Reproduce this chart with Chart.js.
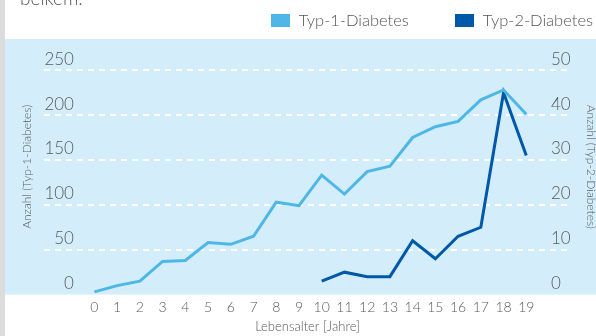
<!DOCTYPE html>
<html>
<head>
<meta charset="utf-8">
<title>Diabetes nach Lebensalter</title>
<script src="https://cdn.jsdelivr.net/npm/chart.js@4.4.0/dist/chart.umd.min.js"></script>
<style>
  html, body { margin: 0; padding: 0; background: #fff; }
  body { width: 596px; height: 336px; overflow: hidden; position: relative; font-family: Lato, "Liberation Sans", sans-serif; font-weight: 300; color: #555; }
  #strip { position: absolute; left: 0; top: 0; width: 5px; height: 336px; background: #dcdcdc; }
  #wrap { position: absolute; left: 5px; top: 0; width: 591px; height: 336px; }
  #cut { position: absolute; left: 20px; top: -12px; font-size: 19px; line-height: 19px; z-index: 2; }
  #legend { position: absolute; right: 3px; top: 9px; display: flex; gap: 46px; z-index: 2; }
  #legend .item { display: flex; align-items: center; font-size: 16.5px; line-height: 22px; color: #555; }
  #legend .box { width: 19px; height: 13px; margin-right: 9px; }
</style>
</head>
<body>
<div id="strip"></div>
<div id="cut">beikem.</div>
<div id="legend"></div>
<div id="wrap"><canvas id="chart"></canvas></div>

<script>
// Werte
var ages = [0, 1, 2, 3, 4, 5, 6, 7, 8, 9, 10, 11, 12, 13, 14, 15, 16, 17, 18, 19];
var typ1 = [3, 10, 15, 37, 38, 58, 56, 65, 103, 99, 133, 112, 137, 143, 175, 187, 193, 217, 228, 201];
var typ2 = [null, null, null, null, null, null, null, null, null, null, 3, 5, 4, 4, 12, 8, 13, 15, 45, 31];
var leftTicks = [0, 50, 100, 150, 200, 250];
var rightTicks = [0, 10, 20, 30, 40, 50];

var hell = "#4fb6e8";
var dunkel = "#0058a8";
var grau = "#5a5a5a";

Chart.defaults.font.family = "Lato, 'Liberation Sans', sans-serif";
Chart.defaults.font.weight = 300;

function points(values) {
  return ages.map(function (a, i) { return { x: a, y: values[i] }; });
}

// hellblaue Fläche hinter dem Diagramm
var panel = {
  id: "panel",
  beforeDraw: function (chart) {
    var c = chart.ctx, a = chart.chartArea;
    c.save();
    c.fillStyle = "#d3eefa";
    c.fillRect(0, a.top, chart.width, a.bottom - a.top);
    c.restore();
  }
};

// Legende als HTML, aus den Datensätzen gebaut
var htmlLegend = {
  id: "htmlLegend",
  afterUpdate: function (chart) {
    var box = document.getElementById("legend");
    box.innerHTML = "";
    chart.data.datasets.forEach(function (ds) {
      var item = document.createElement("div");
      item.className = "item";
      var sw = document.createElement("span");
      sw.className = "box";
      sw.style.background = ds.borderColor;
      item.appendChild(sw);
      item.appendChild(document.createTextNode(ds.label));
      box.appendChild(item);
    });
  }
};

new Chart("chart", {
  type: "line",
  data: {
    datasets: [{
      label: "Typ-1-Diabetes",
      data: points(typ1),
      borderColor: hell,
      borderWidth: 3,
      pointRadius: 0,
      tension: 0,
      yAxisID: "y"
    }, {
      label: "Typ-2-Diabetes",
      data: points(typ2),
      borderColor: dunkel,
      borderWidth: 3,
      pointRadius: 0,
      tension: 0,
      yAxisID: "y2"
    }]
  },
  options: {
    responsive: true,
    maintainAspectRatio: false,
    animation: false,
    layout: { padding: { top: 39, left: 8, right: 0, bottom: 0 } },
    plugins: {
      legend: { display: false },
      tooltip: { enabled: false }
    },
    scales: {
      x: {
        type: "linear",
        min: -2.2,
        max: 20.95,
        afterBuildTicks: function (s) { s.ticks = ages.map(function (v) { return { value: v }; }); },
        grid: { display: false, drawTicks: false },
        border: { display: false },
        ticks: { color: grau, font: { size: 14 }, padding: 4, autoSkip: false, maxRotation: 0 },
        title: { display: true, text: "Lebensalter [Jahre]", color: grau, font: { size: 13 }, padding: { top: 0, bottom: 1 } }
      },
      y: {
        position: "left",
        min: 0,
        max: 284.75,
        afterBuildTicks: function (s) { s.ticks = leftTicks.map(function (v) { return { value: v }; }); },
        grid: {
          drawTicks: false,
          lineWidth: 2,
          color: function (c) { return c.tick && c.tick.value === 0 ? "rgba(0,0,0,0)" : "#ffffff"; }
        },
        border: { display: false, dash: [6, 5] },
        ticks: { mirror: true, crossAlign: "far", padding: 0, labelOffset: -11, color: grau, font: { size: 17 } },
        title: { display: true, text: "Anzahl (Typ-1-Diabetes)", color: grau, font: { size: 12 }, padding: { top: 7, bottom: 10 } }
      },
      y2: {
        position: "right",
        min: 0,
        max: 56.95,
        afterBuildTicks: function (s) { s.ticks = rightTicks.map(function (v) { return { value: v }; }); },
        grid: { display: false, drawTicks: false },
        border: { display: false },
        ticks: { mirror: true, crossAlign: "far", padding: 0, labelOffset: -11, color: grau, font: { size: 17 } },
        title: { display: true, text: "Anzahl (Typ-2-Diabetes)", color: grau, font: { size: 12 }, padding: { top: -2, bottom: 13 } }
      }
    }
  },
  plugins: [panel, htmlLegend]
});
</script>
</body>
</html>
